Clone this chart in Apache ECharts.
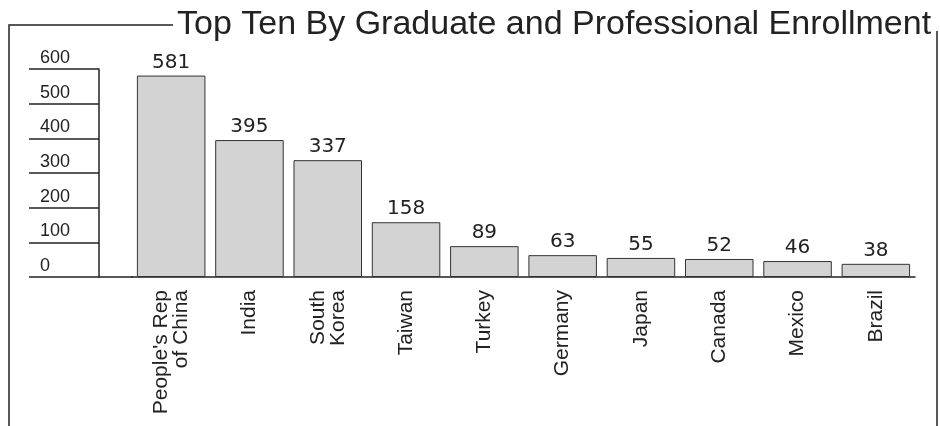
<!DOCTYPE html>
<html>
<head>
<meta charset="utf-8">
<script src="https://cdn.jsdelivr.net/npm/echarts@6/dist/echarts.min.js"></script>
<style>
  html, body { margin: 0; padding: 0; background: #fff; }
  #main { width: 940px; height: 426px; }
</style>
</head>
<body>
<div id="main"></div>
<script>
// data
var countries = ["People's Rep\nof China", 'India', 'South\nKorea', 'Taiwan', 'Turkey',
  'Germany', 'Japan', 'Canada', 'Mexico', 'Brazil'];
var enrollment = [581, 395, 337, 158, 89, 63, 55, 52, 46, 38];

var ink = '#222';
var chart = echarts.init(document.getElementById('main'));

var option = {
  backgroundColor: '#fff',
  animation: false,
  title: {
    text: 'Top Ten By Graduate and Professional Enrollment',
    left: 172,
    top: 3,
    textStyle: {
      fontFamily: 'Liberation Sans',
      fontSize: 34,
      fontWeight: 'normal',
      color: ink
    }
  },
  grid: { left: 132, right: 25, top: 69, bottom: 149 },
  xAxis: {
    type: 'category',
    data: countries,
    axisLine: { lineStyle: { color: ink, width: 1.5 } },
    axisTick: { show: false },
    axisLabel: {
      rotate: 90,
      margin: 13,
      interval: 0,
      fontFamily: 'Liberation Sans',
      fontSize: 21,
      lineHeight: 20,
      color: ink
    }
  },
  yAxis: {
    type: 'value',
    min: 0,
    max: 600,
    interval: 100,
    offset: 33,
    axisLine: { show: true, lineStyle: { color: ink, width: 1.5 } },
    axisTick: { show: true, length: 70, lineStyle: { color: ink, width: 1.5 } },
    splitLine: { show: false },
    axisLabel: {
      align: 'left',
      verticalAlign: 'bottom',
      margin: 59,
      padding: [0, 0, 2, 0],
      fontFamily: 'Liberation Sans',
      fontSize: 18,
      color: ink
    }
  },
  series: [{
    type: 'bar',
    data: enrollment,
    barCategoryGap: '12.5%',
    itemStyle: { color: '#d3d3d3', borderColor: '#333', borderWidth: 1 },
    label: {
      show: true,
      position: 'top',
      distance: 3,
      fontFamily: 'DejaVu Sans',
      fontSize: 20,
      color: ink
    }
  }],
  graphic: [
    // frame around the chart, broken by the title
    { type: 'polyline', shape: { points: [[9, 426], [9, 25], [173, 25]] },
      style: { stroke: ink, lineWidth: 1.5, fill: null } },
    { type: 'line', shape: { x1: 937, y1: 31, x2: 937, y2: 426 },
      style: { stroke: ink, lineWidth: 1.5 } },
    // baseline between the value axis and the first bar
    { type: 'line', shape: { x1: 99, y1: 277, x2: 133, y2: 277 },
      style: { stroke: ink, lineWidth: 1.5 } }
  ]
};

chart.setOption(option);
</script>
</body>
</html>
